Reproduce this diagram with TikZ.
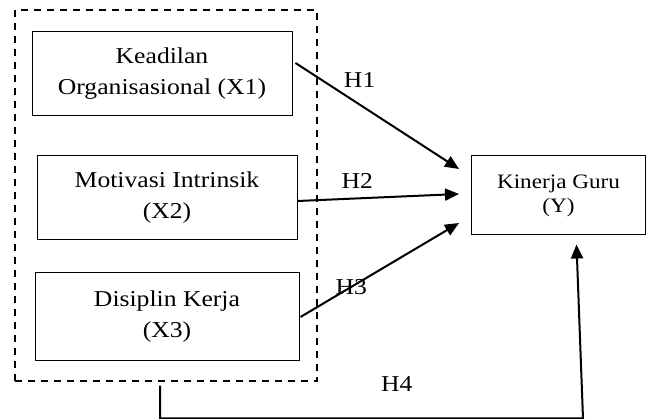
\documentclass[tikz,border=0pt]{standalone}
\usepackage{fontspec}
\setmainfont{Liberation Serif}[FakeStretch=1.13]
\usetikzlibrary{arrows.meta}
\tikzset{
  var/.style={draw, line width=1pt, inner sep=0pt, align=center,
    font=\fontsize{22.7}{31}\selectfont},
  hyp/.style={font=\fontsize{22.7}{31}\selectfont},
  path/.style={line width=2pt, -{Triangle[length=14pt,width=12pt]}}
}

\begin{document}
\begin{tikzpicture}[x=1pt,y=-1pt]
    \useasboundingbox (0,0) rectangle (646,419);
    \node [draw, dash pattern=on 7pt off 6pt, line width=1.4pt,
      minimum width=302pt, minimum height=371pt] (grp) at (166,195.5) {};
    \node [var, minimum width=260pt, minimum height=84pt] (x1) at (162,73.5)
      {Keadilan\\Organisasional (X1)};
    \node [var, minimum width=260pt, minimum height=84pt] (x2) at (167,198)
      {Motivasi Intrinsik\\(X2)};
    \node [var, minimum width=264pt, minimum height=88pt] (x3) at (167,317)
      {Disiplin Kerja\\(X3)};
    \node [var, minimum width=174pt, minimum height=79pt,
      font=\fontsize{20.5}{24}\selectfont] (y) at (558.5,195.5)
      {Kinerja Guru\\(Y)};
    \coordinate (corner) at (583,418.5);
    \draw [path] ([xshift=3pt,yshift=10.5pt]x1.east) to node [hyp, pos=0.27,
      anchor=south west] {H1} ([xshift=-12pt,yshift=26.5pt]y.west);
    \draw [path] ([yshift=-3pt]x2.east) to node [hyp, pos=0.37, above=6pt]
      {H2} ([xshift=-12pt,yshift=1.5pt]y.west);
    \draw [path] ([xshift=1pt]x3.east) to node [hyp, pos=0.32]
      {H3} ([xshift=-12pt,yshift=-27.5pt]y.west);
    \draw [path] ([xshift=-6pt,yshift=-4pt]grp.south) |- node [hyp, pos=0.78,
      above=23pt] {H4} (corner) -- ([xshift=18pt,yshift=-9pt]y.south);
  \end{tikzpicture}
\end{document}
